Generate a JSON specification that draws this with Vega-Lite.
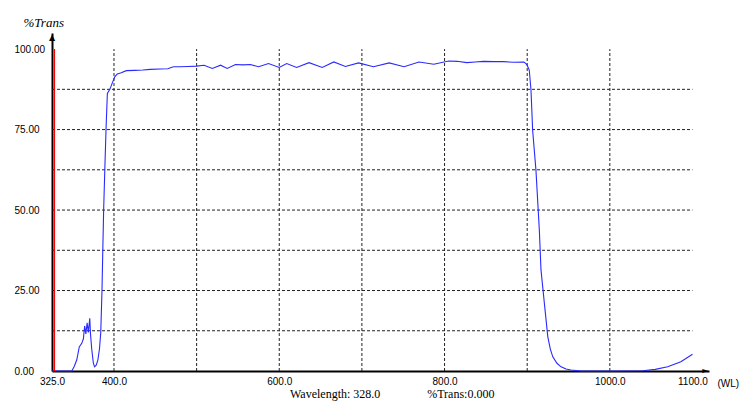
{
  "$schema": "https://vega.github.io/schema/vega-lite/v6.json",
  "width": 657,
  "height": 338,
  "autosize": "none",
  "padding": {"left": 52, "top": 33, "right": 41, "bottom": 48},
  "background": "white",
  "config": {
    "view": {"stroke": null},
    "axis": {"labelFont": "Liberation Sans", "labelFontSize": 10, "labelColor": "black"}
  },
  "datasets": {
    "curve": [
      {"wl": 325, "t": 0}, {"wl": 340, "t": 0}, {"wl": 349, "t": 0}, {"wl": 352, "t": 1.5},
      {"wl": 355, "t": 3.5}, {"wl": 358, "t": 7.5}, {"wl": 361, "t": 8.6}, {"wl": 363, "t": 10},
      {"wl": 364.5, "t": 14}, {"wl": 366, "t": 11.5}, {"wl": 367.5, "t": 15}, {"wl": 369, "t": 12},
      {"wl": 370.7, "t": 16.4}, {"wl": 371.6, "t": 11.5}, {"wl": 373, "t": 7}, {"wl": 375, "t": 2.5},
      {"wl": 376.5, "t": 1.3}, {"wl": 378.5, "t": 1.8}, {"wl": 380.5, "t": 3.4}, {"wl": 382.5, "t": 7},
      {"wl": 384, "t": 12}, {"wl": 385.5, "t": 25}, {"wl": 386.5, "t": 38}, {"wl": 387.5, "t": 50},
      {"wl": 389, "t": 63.4}, {"wl": 390.5, "t": 76}, {"wl": 392, "t": 86.2}, {"wl": 395, "t": 87.5},
      {"wl": 398, "t": 89.5}, {"wl": 401, "t": 91.4}, {"wl": 404, "t": 92.3}, {"wl": 408, "t": 92.6},
      {"wl": 415, "t": 93.3}, {"wl": 425, "t": 93.4}, {"wl": 435, "t": 93.5}, {"wl": 444, "t": 93.7},
      {"wl": 456, "t": 93.8}, {"wl": 465, "t": 93.9}, {"wl": 472, "t": 94.5}, {"wl": 480, "t": 94.5},
      {"wl": 490, "t": 94.6}, {"wl": 500, "t": 94.7}, {"wl": 509, "t": 95.0}, {"wl": 519, "t": 94.0},
      {"wl": 529, "t": 95.0}, {"wl": 537, "t": 94.0}, {"wl": 547, "t": 95.2}, {"wl": 556, "t": 95.1},
      {"wl": 565, "t": 95.2}, {"wl": 575, "t": 94.5}, {"wl": 587, "t": 95.5}, {"wl": 600, "t": 94.3},
      {"wl": 609, "t": 95.5}, {"wl": 621, "t": 94.3}, {"wl": 636, "t": 95.8}, {"wl": 652, "t": 94.3},
      {"wl": 666, "t": 96.0}, {"wl": 680, "t": 94.6}, {"wl": 696, "t": 95.7}, {"wl": 714, "t": 94.5},
      {"wl": 733, "t": 95.7}, {"wl": 751, "t": 94.5}, {"wl": 769, "t": 96.0}, {"wl": 787, "t": 95.3},
      {"wl": 805, "t": 96.3}, {"wl": 815, "t": 96.2}, {"wl": 827, "t": 95.8}, {"wl": 837, "t": 96.0},
      {"wl": 847, "t": 96.2}, {"wl": 860, "t": 96.1}, {"wl": 871, "t": 96.1}, {"wl": 884, "t": 95.9},
      {"wl": 896, "t": 96.0}, {"wl": 898.5, "t": 95.5}, {"wl": 900, "t": 95}, {"wl": 902.5, "t": 93.5},
      {"wl": 904.6, "t": 87.3}, {"wl": 906.6, "t": 74.8}, {"wl": 910.6, "t": 62.4}, {"wl": 914.7, "t": 43.8},
      {"wl": 916.7, "t": 31.4}, {"wl": 920.8, "t": 21}, {"wl": 924.9, "t": 10.7}, {"wl": 928, "t": 6.8},
      {"wl": 931, "t": 4.4}, {"wl": 936, "t": 2.4}, {"wl": 941, "t": 1.3}, {"wl": 947, "t": 0.6},
      {"wl": 953, "t": 0.3}, {"wl": 965, "t": 0}, {"wl": 1000, "t": 0}, {"wl": 1040, "t": 0.1},
      {"wl": 1055, "t": 0.5}, {"wl": 1070, "t": 1.3}, {"wl": 1086, "t": 2.9}, {"wl": 1100, "t": 5.2}
    ],
    "vgrid": [
      {"wl": 400, "t": 0, "t2": 100}, {"wl": 500, "t": 0, "t2": 100}, {"wl": 600, "t": 0, "t2": 100},
      {"wl": 700, "t": 0, "t2": 100}, {"wl": 800, "t": 0, "t2": 100}, {"wl": 900, "t": 0, "t2": 100},
      {"wl": 1000, "t": 0, "t2": 100}
    ],
    "hgrid": [
      {"t": 12.5, "wl": 325, "wl2": 1100}, {"t": 25, "wl": 325, "wl2": 1100}, {"t": 37.5, "wl": 325, "wl2": 1100},
      {"t": 50, "wl": 325, "wl2": 1100}, {"t": 62.5, "wl": 325, "wl2": 1100}, {"t": 75, "wl": 325, "wl2": 1100},
      {"t": 87.5, "wl": 325, "wl2": 1100}
    ],
    "cursor": [{"wl": 328, "t": 0, "t2": 100}],
    "heads": [
      {"wl": 325, "t": 103.6, "glyph": "▲"},
      {"wl": 1115.5, "t": 0, "glyph": "►"}
    ]
  },
  "layer": [
    {
      "data": {"name": "vgrid"},
      "mark": {"type": "rule", "color": "#222", "strokeWidth": 1, "strokeDash": [3, 2]},
      "encoding": {
        "x": {
          "field": "wl", "type": "quantitative",
          "scale": {"domain": [325, 1120], "nice": false, "zero": false},
          "axis": {
            "values": [325, 400, 600, 800, 1000, 1100],
            "format": ".1f",
            "labelFlush": false,
            "labelPadding": 5,
            "ticks": false,
            "domain": true,
            "domainColor": "black",
            "domainWidth": 2,
            "domainOpacity": 1,
            "grid": false,
            "title": "(WL)",
            "titleFont": "Liberation Sans",
            "titleFontSize": 10,
            "titleFontWeight": "normal",
            "titleAlign": "left",
            "titleBaseline": "middle",
            "titleX": 665,
            "titleY": 12
          }
        },
        "y": {
          "field": "t", "type": "quantitative",
          "scale": {"domain": [0, 105], "nice": false},
          "axis": {
            "values": [0, 25, 50, 75, 100],
            "format": ".2f",
            "labelAlign": "left",
            "labelPadding": 38,
            "ticks": false,
            "tickSize": 0,
            "domain": true,
            "domainColor": "black",
            "domainWidth": 2,
            "domainOpacity": 1,
            "grid": false,
            "title": "%Trans",
            "titleAngle": 0,
            "titleFont": "Liberation Serif",
            "titleFontStyle": "italic",
            "titleFontWeight": "normal",
            "titleFontSize": 13,
            "titleAlign": "left",
            "titleBaseline": "middle",
            "titleX": -29,
            "titleY": -11
          }
        },
        "y2": {"field": "t2"}
      }
    },
    {
      "data": {"name": "hgrid"},
      "mark": {"type": "rule", "color": "#222", "strokeWidth": 1, "strokeDash": [3, 2]},
      "encoding": {
        "x": {"field": "wl", "type": "quantitative"},
        "x2": {"field": "wl2"},
        "y": {"field": "t", "type": "quantitative"}
      }
    },
    {
      "data": {"name": "curve"},
      "mark": {"type": "line", "color": "#2a2aff", "strokeWidth": 1.1},
      "encoding": {
        "x": {"field": "wl", "type": "quantitative"},
        "y": {"field": "t", "type": "quantitative"}
      }
    },
    {
      "data": {"name": "cursor"},
      "mark": {"type": "rule", "color": "red", "strokeWidth": 1.2},
      "encoding": {
        "x": {"field": "wl", "type": "quantitative"},
        "y": {"field": "t", "type": "quantitative"},
        "y2": {"field": "t2"}
      }
    },
    {
      "data": {"name": "heads"},
      "mark": {"type": "text", "font": "DejaVu Sans", "fontSize": 8, "align": "center", "baseline": "middle", "color": "black"},
      "encoding": {
        "x": {"field": "wl", "type": "quantitative"},
        "y": {"field": "t", "type": "quantitative"},
        "text": {"field": "glyph"}
      }
    },
    {
      "data": {"values": [{}]},
      "mark": {"type": "text", "font": "Liberation Serif", "fontSize": 12, "align": "left", "baseline": "middle", "color": "black"},
      "encoding": {"x": {"datum": 613}, "y": {"datum": -7.2}, "text": {"value": "Wavelength: 328.0"}}
    },
    {
      "data": {"values": [{}]},
      "mark": {"type": "text", "font": "Liberation Serif", "fontSize": 12, "align": "left", "baseline": "middle", "color": "black"},
      "encoding": {"x": {"datum": 779}, "y": {"datum": -7.2}, "text": {"value": "%Trans:0.000"}}
    }
  ]
}
